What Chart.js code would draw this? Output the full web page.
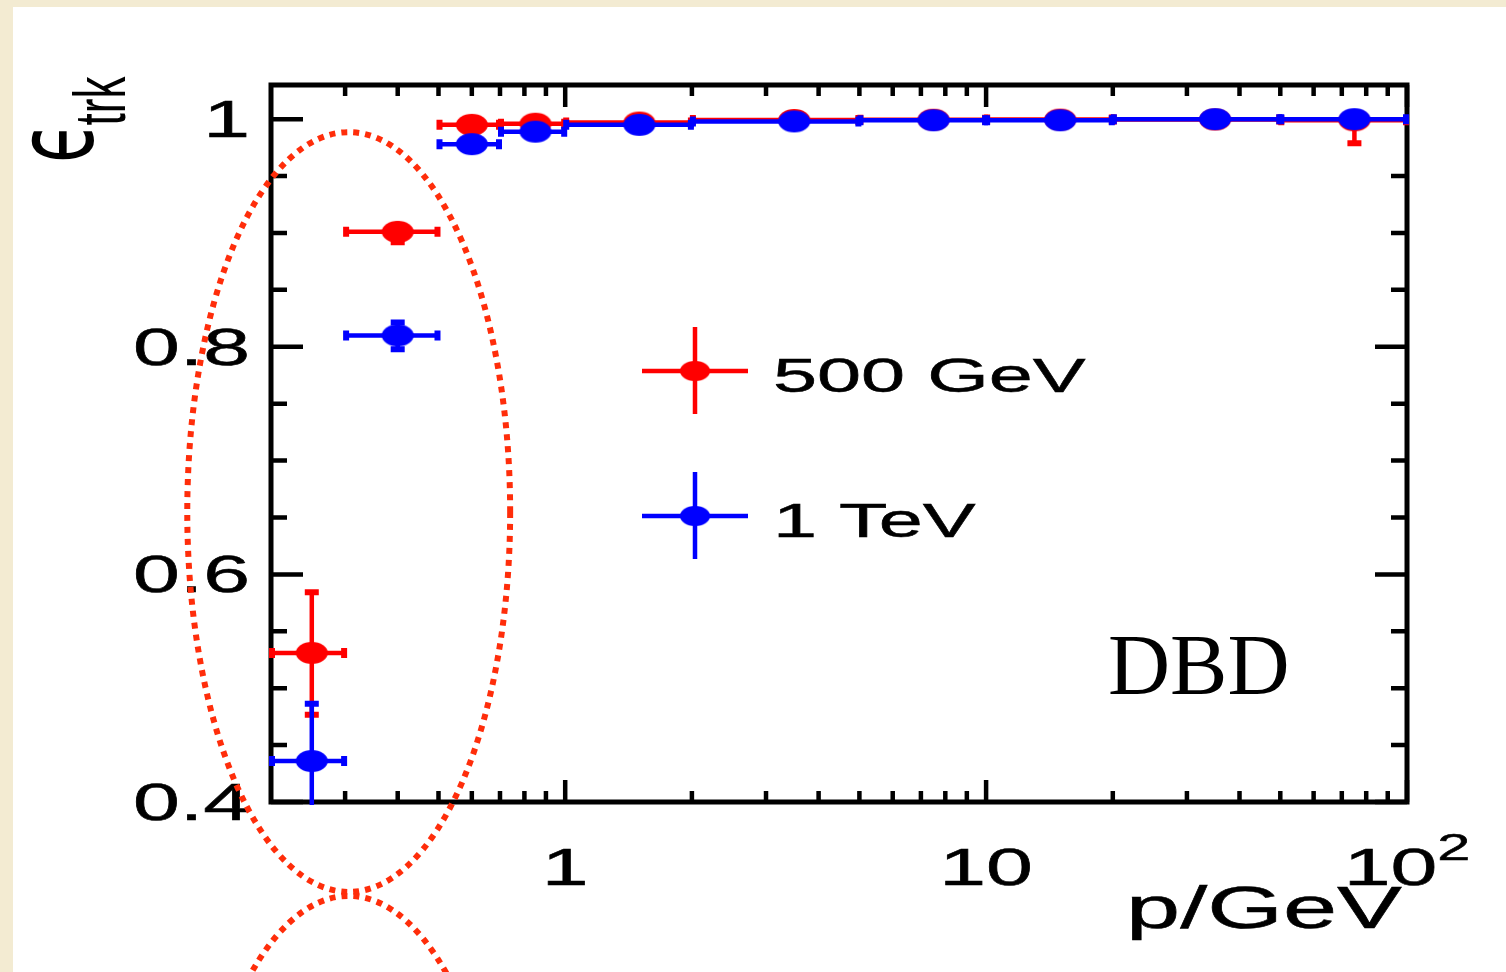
<!DOCTYPE html>
<html>
<head>
<meta charset="utf-8">
<script src="https://cdn.jsdelivr.net/npm/chart.js@4"></script>
<style>
html, body { margin: 0; padding: 0; background: #f3ebd2; }
canvas { display: block; }
</style>
</head>
<body>
<canvas id="efficiency-chart" width="1506" height="972"></canvas>
<script>
// momentum bins (GeV)
const BIN_LOW = [0.2, 0.3, 0.5, 0.7, 1, 2, 5, 10, 20, 50];
const BIN_HIGH = [0.3, 0.5, 0.7, 1, 2, 5, 10, 20, 50, 100];
const BIN_CENTER = [0.25, 0.4, 0.6, 0.85, 1.5, 3.5, 7.5, 15, 35, 75];

// tracking efficiency, 500 GeV
const EFF_500 = [0.531, 0.901, 0.995, 0.996, 0.997, 0.9993, 0.9995, 0.9996, 0.9997, 0.999];
const EFF_500_UP = [0.055, 0.009, 0.002, 0.002, 0.001, 0.0005, 0.0004, 0.0003, 0.0003, 0.001];
const EFF_500_DOWN = [0.056, 0.011, 0.003, 0.002, 0.001, 0.0006, 0.0005, 0.0004, 0.0004, 0.022];

// tracking efficiency, 1 TeV
const EFF_1000 = [0.436, 0.810, 0.978, 0.989, 0.995, 0.998, 0.999, 0.999, 1.0, 1.0];
const EFF_1000_UP = [0.052, 0.013, 0.003, 0.003, 0.002, 0.001, 0.0005, 0.0005, 0, 0];
const EFF_1000_DOWN = [0.07, 0.014, 0.004, 0.003, 0.002, 0.001, 0.001, 0.001, 0.0005, 0.002];

const SERIES_LABELS = ['500 GeV', '1 TeV'];
const SERIES_COLORS = ['#ff0000', '#0000ff'];

const Y_MAJOR = [0.4, 0.6, 0.8, 1];
const Y_MAJOR_LABELS = ['0.4', '0.6', '0.8', '1'];
const Y_MINOR = [0.45, 0.5, 0.55, 0.65, 0.7, 0.75, 0.85, 0.9, 0.95];
const X_MAJOR = [1, 10, 100];
const X_MAJOR_LABELS = [['1', ''], ['10', ''], ['10', '2']];
const X_MINOR = [0.3, 0.4, 0.5, 0.6, 0.7, 0.8, 0.9, 2, 3, 4, 5, 6, 7, 8, 9, 20, 30, 40, 50, 60, 70, 80, 90];

// dotted ellipses marking the low momentum region (data units: x range, y range)
const HIGHLIGHTS = [
    { x: [0.1265, 0.74], y: [0.321, 0.9886] },
    { x: [0.1265, 0.74], y: [-0.35, 0.3175] }
];

const SX = 1.65; // the original figure is stretched horizontally
const SANS = '"Liberation Sans", Arial, sans-serif';

function makeMarker(color) {
    const c = document.createElement('canvas');
    c.width = 34;
    c.height = 24;
    const g = c.getContext('2d');
    g.fillStyle = color;
    g.beginPath();
    g.ellipse(17, 12, 16, 11, 0, 0, 2 * Math.PI);
    g.fill();
    return c;
}

function stretchedText(ctx, text, x, y, font, align, baseline) {
    ctx.save();
    ctx.translate(x, y);
    ctx.scale(SX, 1);
    ctx.font = font;
    ctx.textAlign = align || 'left';
    ctx.textBaseline = baseline || 'alphabetic';
    ctx.fillText(text, 0, 0);
    ctx.lineWidth = 0.5;
    ctx.strokeStyle = ctx.fillStyle;
    ctx.strokeText(text, 0, 0);
    ctx.restore();
}

function stretchedWidth(ctx, text, font) {
    ctx.save();
    ctx.font = font;
    const w = ctx.measureText(text).width * SX;
    ctx.restore();
    return w;
}

function buildDataset(i, values, up, down) {
    return {
        label: SERIES_LABELS[i],
        data: BIN_CENTER.map((x, k) => ({ x: x, y: values[k] })),
        errUp: up,
        errDown: down,
        pointStyle: makeMarker(SERIES_COLORS[i]),
        borderColor: SERIES_COLORS[i],
        backgroundColor: SERIES_COLORS[i],
        pointRadius: 12,
        showLine: false,
        order: 2 - i
    };
}

const backgroundPlugin = {
    id: 'background',
    beforeDraw(chart) {
        const ctx = chart.ctx;
        ctx.save();
        ctx.fillStyle = '#f3ebd2';
        ctx.fillRect(0, 0, chart.width, chart.height);
        ctx.fillStyle = '#ffffff';
        ctx.fillRect(13, 7, chart.width - 13, chart.height - 7);
        ctx.restore();
    }
};

const framePlugin = {
    id: 'frame',
    beforeDatasetsDraw(chart) {
        const ctx = chart.ctx;
        const a = chart.chartArea;
        const xs = chart.scales.x, ys = chart.scales.y;
        ctx.save();
        ctx.strokeStyle = '#000';
        ctx.lineWidth = 4.5;
        ctx.beginPath();
        Y_MAJOR.concat(Y_MINOR).forEach(v => {
            const len = Y_MAJOR.includes(v) ? 32 : 16;
            const p = ys.getPixelForValue(v);
            ctx.moveTo(a.left, p); ctx.lineTo(a.left + len, p);
            ctx.moveTo(a.right, p); ctx.lineTo(a.right - len, p);
        });
        X_MAJOR.concat(X_MINOR).forEach(v => {
            const len = X_MAJOR.includes(v) ? 22 : 11;
            const p = xs.getPixelForValue(v);
            ctx.moveTo(p, a.bottom); ctx.lineTo(p, a.bottom - len);
            ctx.moveTo(p, a.top); ctx.lineTo(p, a.top + len);
        });
        ctx.stroke();
        ctx.lineWidth = 5;
        ctx.lineJoin = 'miter';
        ctx.strokeRect(a.left, a.top, a.right - a.left, a.bottom - a.top);
        ctx.restore();
    }
};

const errorBarPlugin = {
    id: 'errorBars',
    beforeDatasetDraw(chart, args) {
        const ds = chart.data.datasets[args.index];
        const ctx = chart.ctx;
        const a = chart.chartArea;
        const xs = chart.scales.x, ys = chart.scales.y;
        ctx.save();
        ctx.beginPath();
        ctx.rect(a.left - 3, a.top - 3, a.right - a.left + 6, a.bottom - a.top + 6);
        ctx.clip();
        ctx.strokeStyle = ds.borderColor;
        ds.data.forEach((pt, k) => {
            const px = xs.getPixelForValue(pt.x);
            const py = ys.getPixelForValue(pt.y);
            const xl = xs.getPixelForValue(BIN_LOW[k]);
            const xh = xs.getPixelForValue(BIN_HIGH[k]);
            const yt = ys.getPixelForValue(pt.y + ds.errUp[k]);
            const yb = ys.getPixelForValue(pt.y - ds.errDown[k]);
            ctx.lineWidth = 4.5;
            ctx.beginPath();
            ctx.moveTo(xl, py); ctx.lineTo(xh, py);
            ctx.moveTo(px, yt); ctx.lineTo(px, yb);
            ctx.stroke();
            ctx.lineWidth = 6;
            ctx.beginPath();
            ctx.moveTo(xl + 1, py - 5); ctx.lineTo(xl + 1, py + 5);
            ctx.moveTo(xh - 1, py - 5); ctx.lineTo(xh - 1, py + 5);
            if (py - yt > 12) { ctx.moveTo(px - 7, yt + 2); ctx.lineTo(px + 7, yt + 2); }
            if (yb - py > 12) { ctx.moveTo(px - 7, yb - 2); ctx.lineTo(px + 7, yb - 2); }
            ctx.stroke();
        });
        ctx.restore();
    }
};

const annotationPlugin = {
    id: 'annotations',
    afterDraw(chart) {
        const ctx = chart.ctx;
        const xs = chart.scales.x, ys = chart.scales.y;
        ctx.save();
        ctx.fillStyle = '#000';

        // y tick labels
        const yFont = '51px ' + SANS;
        Y_MAJOR.forEach((v, i) => {
            stretchedText(ctx, Y_MAJOR_LABELS[i], 250, ys.getPixelForValue(v) + 18, yFont, 'right');
        });

        // x tick labels
        const xFont = '51px ' + SANS;
        const supFont = '36px ' + SANS;
        X_MAJOR.forEach((v, i) => {
            const [base, sup] = X_MAJOR_LABELS[i];
            const wb = stretchedWidth(ctx, base, xFont);
            const ws = sup ? stretchedWidth(ctx, sup, supFont) : 0;
            const start = xs.getPixelForValue(v) - (wb + ws) / 2;
            stretchedText(ctx, base, start, 885, xFont);
            if (sup) stretchedText(ctx, sup, start + wb, 860, supFont);
        });

        // axis titles
        stretchedText(ctx, 'p/GeV', 1402, 928, '59px ' + SANS, 'right');
        ctx.save();
        ctx.translate(92, 163);
        ctx.scale(SX, 1);
        ctx.rotate(-Math.PI / 2);
        ctx.font = '66px "DejaVu Sans"';
        ctx.fillText('\u03f5', 0, 0);
        const we = ctx.measureText('\u03f5').width;
        ctx.font = '44px ' + SANS;
        ctx.fillText('trk', we - 3, 20);
        ctx.restore();

        // legend
        const legendY = [371, 516];
        chart.data.datasets.forEach((ds, i) => {
            const y = legendY[i];
            ctx.strokeStyle = ds.borderColor;
            ctx.lineWidth = 4.5;
            ctx.beginPath();
            ctx.moveTo(642, y); ctx.lineTo(748, y);
            ctx.moveTo(695, y - 44); ctx.lineTo(695, y + 43);
            ctx.stroke();
            ctx.drawImage(ds.pointStyle, 695 - 16, y - 11, 32, 22);
            ctx.fillStyle = '#000';
            stretchedText(ctx, ds.label, 773, y + 21, '48px ' + SANS);
        });

        // DBD tag
        ctx.font = '86px "Liberation Serif", "Times New Roman", serif';
        ctx.textAlign = 'left';
        ctx.textBaseline = 'alphabetic';
        ctx.fillText('DBD', 1108, 694);

        // dotted ellipses
        ctx.strokeStyle = '#ff2d0a';
        ctx.lineWidth = 6;
        ctx.setLineDash([6, 6]);
        HIGHLIGHTS.forEach(h => {
            const x0 = xs.getPixelForValue(h.x[0]), x1 = xs.getPixelForValue(h.x[1]);
            const y0 = ys.getPixelForValue(h.y[1]), y1 = ys.getPixelForValue(h.y[0]);
            ctx.beginPath();
            ctx.ellipse((x0 + x1) / 2, (y0 + y1) / 2, (x1 - x0) / 2, (y1 - y0) / 2, 0, 0, 2 * Math.PI);
            ctx.stroke();
        });
        ctx.restore();
    }
};

const efficiencyChart = new Chart(document.getElementById('efficiency-chart'), {
    type: 'scatter',
    data: {
        datasets: [
            buildDataset(0, EFF_500, EFF_500_UP, EFF_500_DOWN),
            buildDataset(1, EFF_1000, EFF_1000_UP, EFF_1000_DOWN)
        ]
    },
    options: {
        responsive: false,
        animation: false,
        devicePixelRatio: 1,
        layout: { padding: { left: 271, top: 85, right: 99, bottom: 170 } },
        scales: {
            x: { type: 'logarithmic', min: 0.2, max: 100, display: false },
            y: { type: 'linear', min: 0.4, max: 1.03, display: false }
        },
        plugins: {
            legend: { display: false },
            tooltip: { enabled: false }
        }
    },
    plugins: [backgroundPlugin, framePlugin, errorBarPlugin, annotationPlugin]
});
</script>
</body>
</html>
